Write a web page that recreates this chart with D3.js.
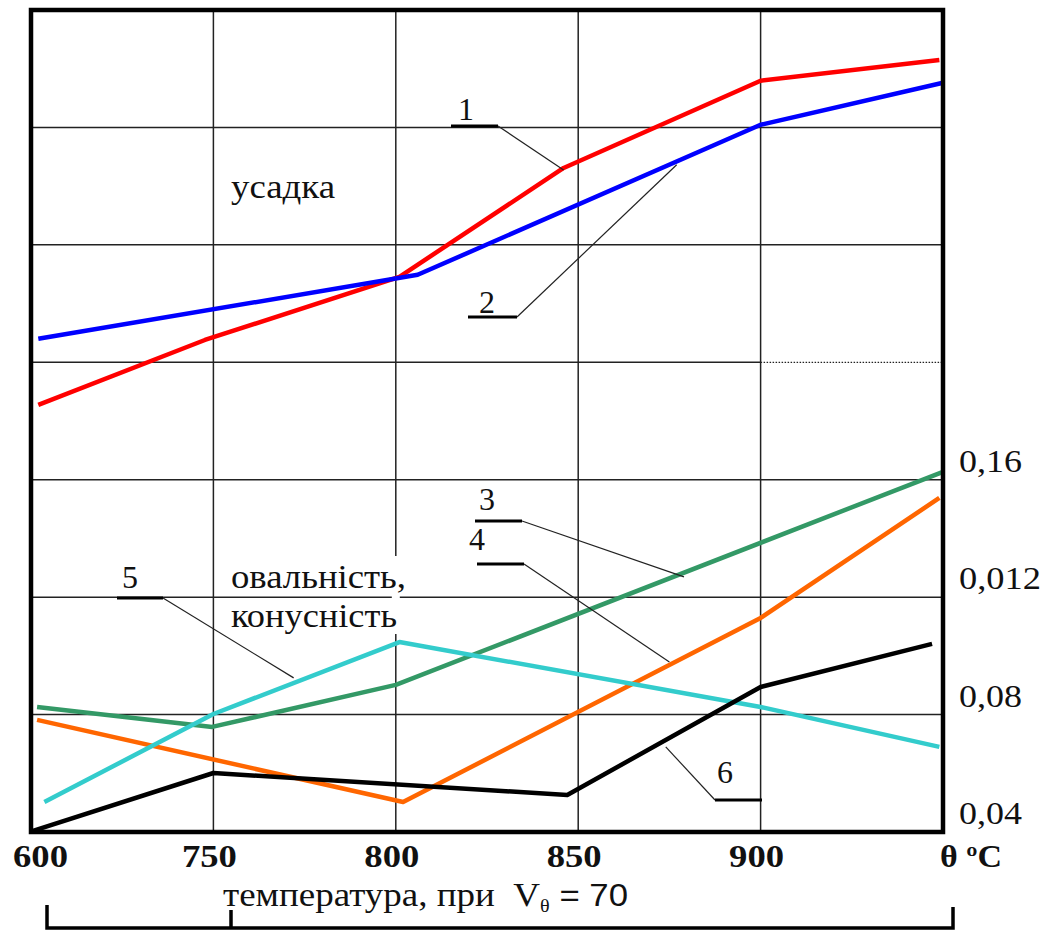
<!DOCTYPE html>
<html>
<head>
<meta charset="utf-8">
<script src="https://cdn.jsdelivr.net/npm/d3@7"></script>
<style>
  body { margin: 0; background: #fff; }
  text { font-family: "Liberation Serif", "Times New Roman", serif; fill: #111; }
</style>
</head>
<body>
<svg id="chart"></svg>
<script>
// temperatures on the x axis (last one is the "θ °C" end)
const temps = [600, 750, 800, 850, 900, 950];
const tempLabels = ["600", "750", "800", "850", "900", "θ ºC"];

// right axis
const yTicks = [0.04, 0.08, 0.12, 0.16];
const yTickLabels = ["0,04", "0,08", "0,012", "0,16"];
const yGrid = [0.08, 0.12, 0.16, 0.20, 0.24, 0.28];

// усадка
const line1 = [[606, 0.1855], [743, 0.2076], [801, 0.2291], [846, 0.2662], [900, 0.2959], [949, 0.3030]];
const line2 = [[606, 0.2080], [806, 0.2298], [900, 0.2809], [950, 0.2952]];
// овальність, конусність
const line3 = [[605, 0.0826], [749, 0.0758], [800, 0.0901], [950, 0.1627]];
const line4 = [[605, 0.0782], [802, 0.0502], [900, 0.1129], [949, 0.1538]];
const line5 = [[611, 0.0502], [750, 0.0802], [801, 0.1047], [900, 0.0826], [949, 0.0690]];
const line6 = [[601, 0.0403], [750, 0.0601], [847, 0.0526], [900, 0.0894], [947, 0.1041]];

const lineColors = ["#ff0000", "#0000ff", "#339966", "#ff6600", "#33cccc", "#000000"];

const W = 1047, H = 931;
const plot = { left: 31, right: 943, top: 10, bottom: 832 };

const svg = d3.select("#chart").attr("width", W).attr("height", H);

// Scales (x is evenly spaced per category, so a polylinear scale)
const x = d3.scaleLinear()
  .domain(temps)
  .range(temps.map((d, i) => plot.left + i * (plot.right - plot.left) / (temps.length - 1)));

const y = d3.scaleLinear()
  .domain([0.04, 0.32])
  .range([plot.bottom, plot.top]);

// Grid
const grid = svg.append("g").attr("stroke", "#222").attr("stroke-width", 1.5);

temps.slice(1, -1).forEach(t => {
  grid.append("line")
    .attr("x1", x(t)).attr("x2", x(t))
    .attr("y1", plot.top).attr("y2", plot.bottom);
});

// gap in the 800 line behind the "овальність" text
svg.append("rect")
  .attr("x", x(800) - 4).attr("y", 556)
  .attr("width", 8).attr("height", 78)
  .attr("fill", "#fff");

yGrid.forEach(v => {
  if (v === 0.20) {
    grid.append("line")
      .attr("x1", plot.left).attr("x2", x(900))
      .attr("y1", y(v)).attr("y2", y(v));
    grid.append("line")
      .attr("x1", x(900)).attr("x2", plot.right)
      .attr("y1", y(v)).attr("y2", y(v))
      .attr("stroke-width", 1.2)
      .attr("stroke-dasharray", "1.5,1.5");
  } else {
    grid.append("line")
      .attr("x1", plot.left).attr("x2", plot.right)
      .attr("y1", y(v)).attr("y2", y(v));
  }
});

// Lines
const lineGen = d3.line().x(d => x(d[0])).y(d => y(d[1]));

[line1, line2, line3, line4, line5, line6].forEach((data, i) => {
  svg.append("path")
    .datum(data)
    .attr("fill", "none")
    .attr("stroke", lineColors[i])
    .attr("stroke-width", 4.5)
    .attr("stroke-linejoin", "round")
    .attr("d", lineGen);
});

// Frame
svg.append("rect")
  .attr("x", plot.left).attr("y", plot.top)
  .attr("width", plot.right - plot.left)
  .attr("height", plot.bottom - plot.top)
  .attr("fill", "none")
  .attr("stroke", "#000")
  .attr("stroke-width", 4.5);

// X tick labels (the original type is wide, so stretch a little)
svg.append("g")
  .selectAll("text")
  .data(temps)
  .join("text")
  .attr("x", (d, i) => i === 0 ? 13 : i === temps.length - 1 ? x(d) - 3 : x(d) - 4)
  .attr("y", 867)
  .attr("text-anchor", (d, i) => (i === 0 || i === temps.length - 1) ? "start" : "middle")
  .attr("textLength", (d, i) => i === temps.length - 1 ? 62 : 55)
  .attr("lengthAdjust", "spacingAndGlyphs")
  .style("font-size", "31px")
  .style("font-weight", "bold")
  .text((d, i) => tempLabels[i]);

// Right tick labels
svg.append("g")
  .selectAll("text")
  .data(yTicks)
  .join("text")
  .attr("x", 959)
  .attr("y", d => y(d) - 8)
  .attr("textLength", (d, i) => yTickLabels[i].length === 5 ? 82 : 63)
  .attr("lengthAdjust", "spacingAndGlyphs")
  .style("font-size", "31px")
  .text((d, i) => yTickLabels[i]);

// Axis title
const title = svg.append("text")
  .attr("x", 223)
  .attr("y", 906)
  .attr("textLength", 405)
  .attr("lengthAdjust", "spacingAndGlyphs")
  .style("white-space", "pre")
  .style("font-size", "33px");
title.append("tspan").text("температура, при  V");
title.append("tspan").attr("dy", 6).style("font-size", "18px").text("θ");
title.append("tspan").attr("dy", -6).style("font-family", "Liberation Sans, Arial, sans-serif")
  .style("font-size", "31px").text(" = 70");

// Bottom bracket
svg.append("path")
  .attr("d", "M47,905V928H953V907M231,910V928")
  .attr("fill", "none")
  .attr("stroke", "#000")
  .attr("stroke-width", 3.5);

// Group labels
const groupLabels = [
  { t: "усадка", y: 198, w: 104 },
  { t: "овальність,", y: 588, w: 175 },
  { t: "конусність", y: 627, w: 166 }
];
groupLabels.forEach(g => {
  svg.append("text")
    .attr("x", 231).attr("y", g.y)
    .attr("textLength", g.w)
    .attr("lengthAdjust", "spacingAndGlyphs")
    .style("font-size", "34px")
    .text(g.t);
});

// Numbered callouts: label, underline and leader to the line
const callouts = [
  { n: "1", tx: 466, ty: 120, bx1: 451, bx2: 498, by: 126, from: "right", end: [846, 0.2655] },
  { n: "2", tx: 487, ty: 313, bx1: 468, bx2: 517, by: 317, from: "right", end: [877, 0.2673] },
  { n: "3", tx: 487, ty: 510, bx1: 475, bx2: 522, by: 521, from: "right", end: [879, 0.1269] },
  { n: "4", tx: 477, ty: 550, bx1: 477, bx2: 524, by: 564, from: "right", end: [875, 0.0979] },
  { n: "5", tx: 130, ty: 588, bx1: 117, bx2: 163, by: 598, from: "right", end: [772, 0.0925] },
  { n: "6", tx: 725, ty: 783, bx1: 715, bx2: 762, by: 800, from: "left", end: [874, 0.0690] }
];

callouts.forEach(c => {
  svg.append("line")
    .attr("x1", c.bx1).attr("x2", c.bx2)
    .attr("y1", c.by).attr("y2", c.by)
    .attr("stroke", "#000").attr("stroke-width", 3);
  svg.append("line")
    .attr("x1", c.from === "right" ? c.bx2 : c.bx1)
    .attr("y1", c.by)
    .attr("x2", x(c.end[0]))
    .attr("y2", y(c.end[1]))
    .attr("stroke", "#222").attr("stroke-width", 1.2);
  svg.append("text")
    .attr("x", c.tx).attr("y", c.ty)
    .attr("text-anchor", "middle")
    .style("font-size", "32px")
    .text(c.n);
});
</script>
</body>
</html>
